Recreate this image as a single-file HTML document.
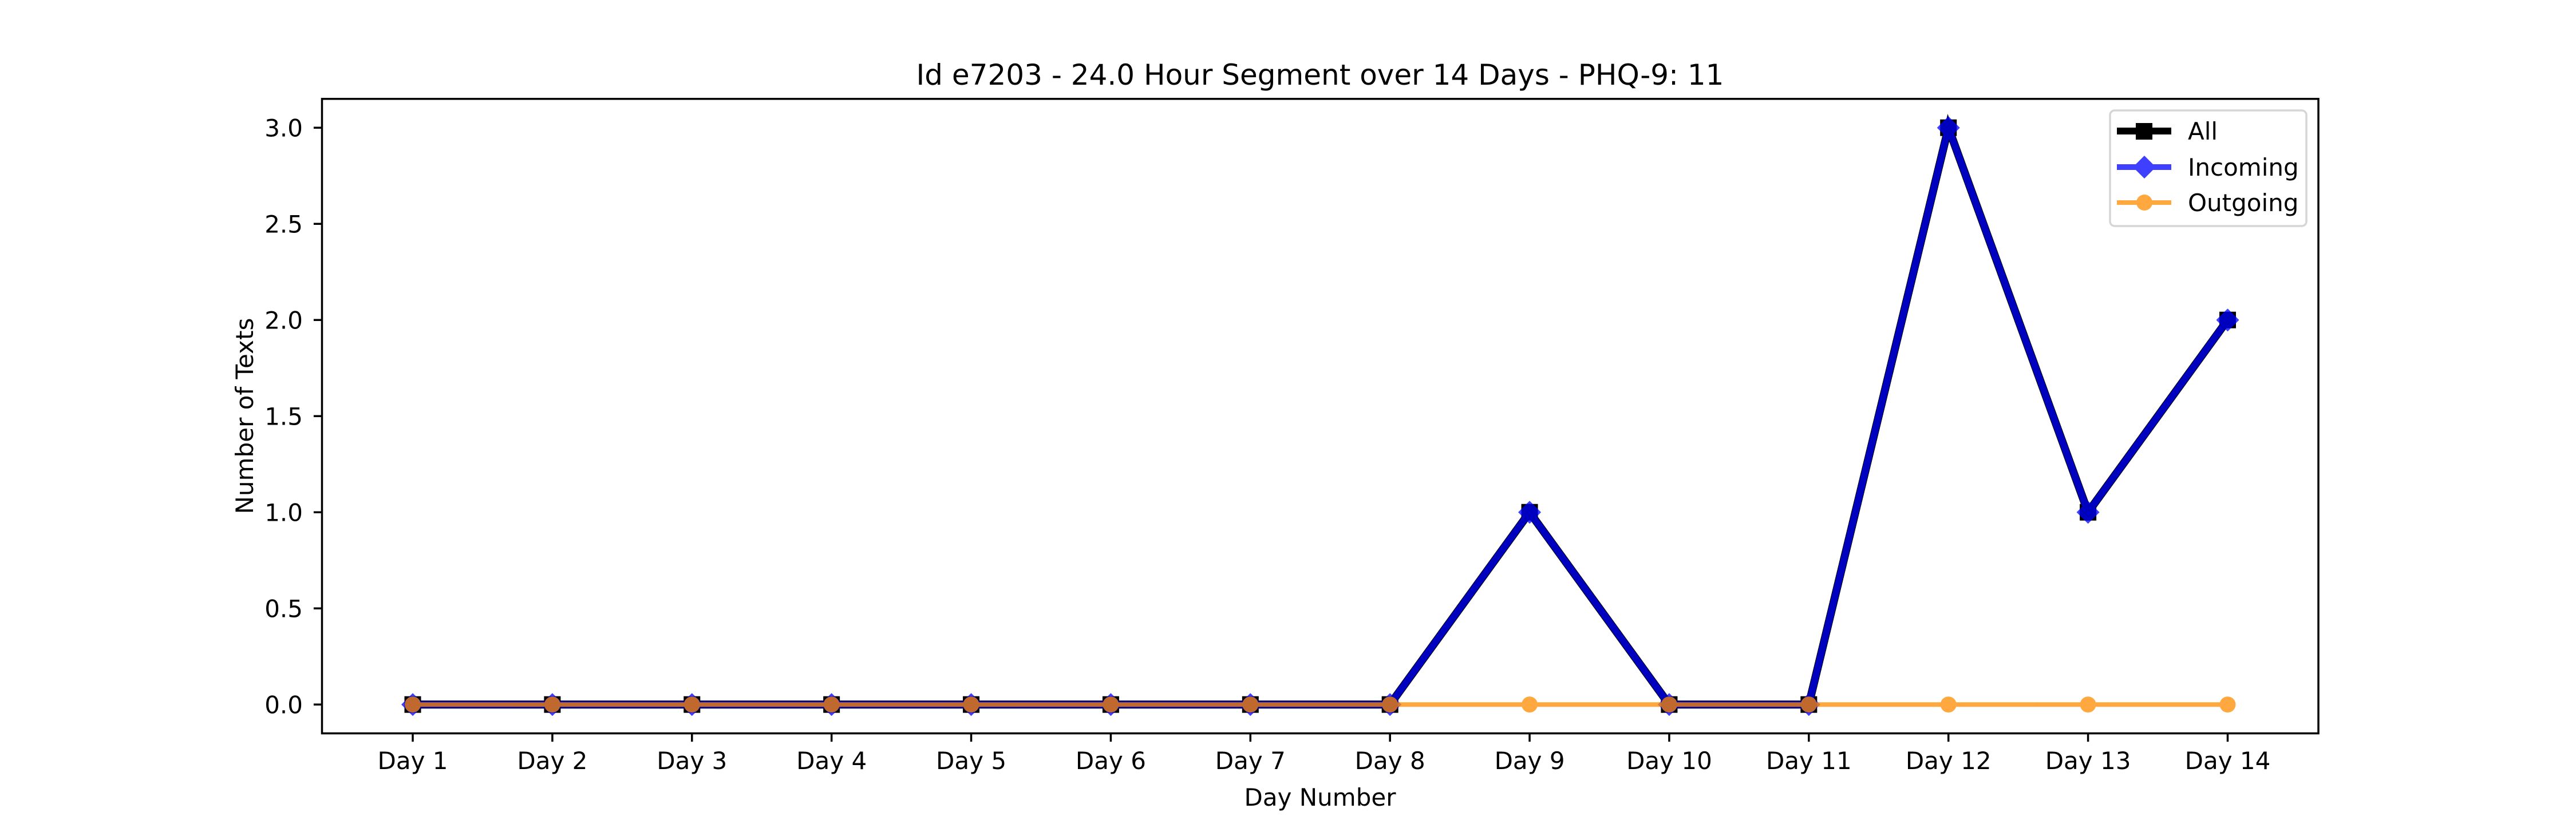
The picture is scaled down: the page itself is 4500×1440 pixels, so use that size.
<!DOCTYPE html>
<html><head><meta charset="utf-8"><style>
html,body{margin:0;padding:0;background:#fff;}
svg{display:block;font-family:"DejaVu Sans","Liberation Sans",sans-serif;}
</style></head><body>
<svg id="chart" width="4500" height="1440" viewBox="0 0 4500 1440" xmlns="http://www.w3.org/2000/svg">
<rect width="4500" height="1440" fill="#fff"/>
<text x="2306" y="148" font-size="50" text-anchor="middle">Id e7203 - 24.0 Hour Segment over 14 Days - PHQ-9: 11</text>
<g id="plot"></g>
<rect x="562.5" y="172.8" width="3487.5" height="1108.8" fill="none" stroke="#000" stroke-width="3.5"/>
<text x="2306" y="1408" font-size="42" text-anchor="middle">Day Number</text>
<text transform="translate(442,727) rotate(-90)" font-size="42" text-anchor="middle">Number of Texts</text>
<g>
<rect x="3686" y="193" width="343" height="202" rx="8" fill="#fff" fill-opacity="0.8" stroke="#d6d6d6" stroke-width="3.5"/>
<g>
<line x1="3698" y1="229" x2="3793" y2="229" stroke="#000" stroke-width="12"/>
<rect x="3731" y="215" width="29" height="29" fill="#000"/>
<text x="3822" y="244" font-size="42">All</text></g>
<g opacity="0.75">
<line x1="3698" y1="292" x2="3793" y2="292" stroke="#0000ff" stroke-width="10"/>
<polygon points="3746,272 3766,292 3746,312 3726,292" fill="#0000ff"/>
</g>
<text x="3822" y="307" font-size="42">Incoming</text>
<g opacity="0.75">
<line x1="3698" y1="354" x2="3793" y2="354" stroke="#ff8c00" stroke-width="8"/>
<circle cx="3746" cy="354" r="14" fill="#ff8c00"/>
</g>
<text x="3822" y="369" font-size="42">Outgoing</text>
</g>
</svg>
<script>
const categories = ["Day 1","Day 2","Day 3","Day 4","Day 5","Day 6","Day 7","Day 8","Day 9","Day 10","Day 11","Day 12","Day 13","Day 14"];
const allValues = [0,0,0,0,0,0,0,0,1,0,0,3,1,2];
const incomingValues = [0,0,0,0,0,0,0,0,1,0,0,3,1,2];
const outgoingValues = [0,0,0,0,0,0,0,0,0,0,0,0,0,0];
const yTicks = [0,0.5,1,1.5,2,2.5,3];
const yTickLabels = ["0.0","0.5","1.0","1.5","2.0","2.5","3.0"];

const NS = "http://www.w3.org/2000/svg";
const plot = document.getElementById('plot');
const L = 562.5, R = 4050, T = 172.8, B = 1281.6;
const xMin = -0.65, xMax = 13.65, yMin = -0.15, yMax = 3.15;
const x = i => L + (i - xMin) / (xMax - xMin) * (R - L);
const y = v => B - (v - yMin) / (yMax - yMin) * (B - T);
function mk(tag, attrs, parent) {
  const e = document.createElementNS(NS, tag);
  for (const k in attrs) e.setAttribute(k, attrs[k]);
  (parent || plot).appendChild(e);
  return e;
}
yTicks.forEach((t, i) => {
  const l = mk('line', {x1: L - 14.6, x2: L, y1: y(t), y2: y(t), stroke: '#000', 'stroke-width': 3.5});
  
  
  const tx = mk('text', {x: 529, y: y(t) + 15.5, 'font-size': 42, 'text-anchor': 'end'});
  tx.textContent = yTickLabels[i];
  
  
});
categories.forEach((c, i) => {
  const l = mk('line', {x1: x(i), x2: x(i), y1: B, y2: B + 14.6, stroke: '#000', 'stroke-width': 3.5});
  
  
  const tx = mk('text', {x: x(i), y: 1344, 'font-size': 42, 'text-anchor': 'middle'});
  tx.textContent = c;
  
  
});
function pts(vals) { return vals.map((v, i) => x(i) + ',' + y(v)).join(' '); }
const allLine = mk('polyline', {points: pts(allValues), fill: 'none', stroke: '#000', 'stroke-width': 14});


allValues.forEach((v, i) => {
  const m = mk('rect', {x: x(i) - 14.5, y: y(v) - 14.5, width: 29, height: 29, fill: '#000'});
  
  
});
const inG = mk('g', {opacity: 0.75});


const inLine = mk('polyline', {points: pts(incomingValues), fill: 'none', stroke: '#0000ff', 'stroke-width': 12}, inG);


incomingValues.forEach((v, i) => {
  const cx = x(i), cy = y(v);
  const m = mk('polygon', {points: `${cx},${cy-20} ${cx+20},${cy} ${cx},${cy+20} ${cx-20},${cy}`, fill: '#0000ff'}, inG);
  
  
});
const outG = mk('g', {opacity: 0.75});


const outLine = mk('polyline', {points: pts(outgoingValues), fill: 'none', stroke: '#ff8c00', 'stroke-width': 8}, outG);


outgoingValues.forEach((v, i) => {
  const m = mk('circle', {cx: x(i), cy: y(v), r: 14, fill: '#ff8c00'}, outG);
  
  
});
</script>
</body></html>
